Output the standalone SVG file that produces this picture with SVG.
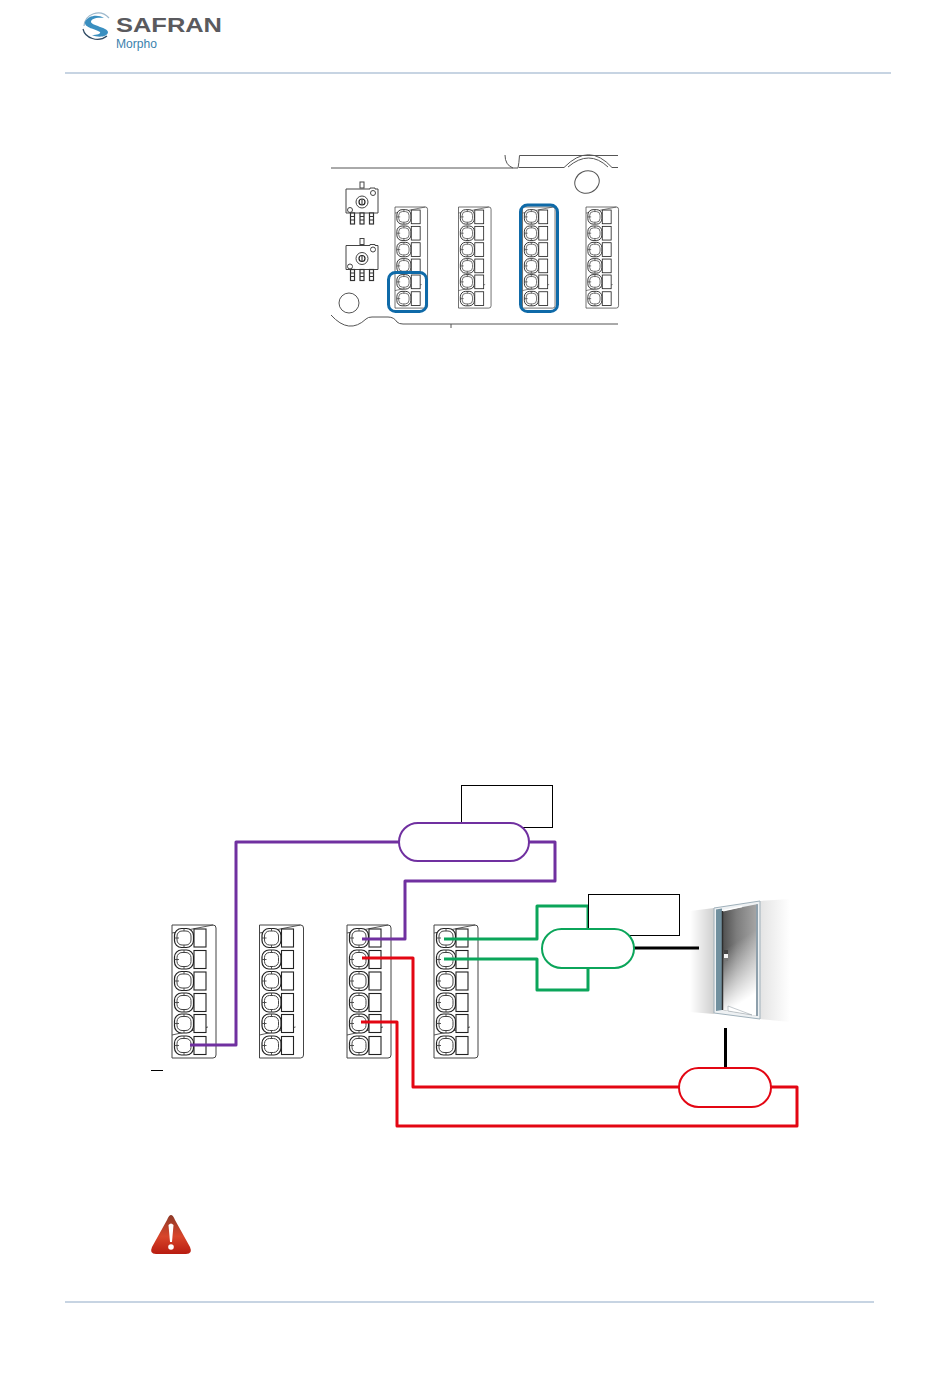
<svg xmlns="http://www.w3.org/2000/svg" xmlns:xlink="http://www.w3.org/1999/xlink" width="950" height="1378" viewBox="0 0 950 1378">
<style>
.hr{stroke:#8fa9c6;stroke-width:1;fill:none}
.pcb{fill:none;stroke:#555;stroke-width:1}
.blk{fill:#fff;stroke:#444;stroke-width:1}
.thin{fill:none;stroke:#444;stroke-width:.9}
.sel{fill:none;stroke:#0f6aa8;stroke-width:3}
.wire{fill:none;stroke-width:3;stroke-linejoin:round}
.purple{stroke:#7030a0}.red{stroke:#e30613}.green{stroke:#0ba55a}.black{stroke:#000;fill:none;stroke-width:3}
.box{fill:#fff;stroke:#000;stroke-width:1}
.pill{fill:#fff;stroke-width:2}
</style>
<defs>
<linearGradient id="wallL" x1="0" x2="1" y1="0" y2="0"><stop offset="0" stop-color="#fff"/><stop offset="1" stop-color="#cfcfcf"/></linearGradient>
<linearGradient id="wallR" x1="0" x2="1" y1="0" y2="0"><stop offset="0" stop-color="#e4e4e4"/><stop offset=".45" stop-color="#f0f0f0"/><stop offset="1" stop-color="#fff"/></linearGradient>
<linearGradient id="doorH" x1="0" x2="1" y1="0" y2="0"><stop offset="0" stop-color="#505050"/><stop offset=".4" stop-color="#7d7d7d"/><stop offset="1" stop-color="#a8a8a8"/></linearGradient>
<linearGradient id="doorV" x1="0" x2=".2" y1="0" y2="1"><stop offset=".4" stop-color="#fff" stop-opacity="0"/><stop offset=".95" stop-color="#fff"/></linearGradient>
<linearGradient id="warn" x1="0" x2="0" y1="0" y2="1"><stop offset="0" stop-color="#8e3a28"/><stop offset=".55" stop-color="#d8452a"/><stop offset="1" stop-color="#b81c10"/></linearGradient>
<g id="row">
<rect x="2.500" y="-9.500" width="19" height="19" rx="7" fill="#fff" stroke="#222" stroke-width="1.200"/>
<rect x="5" y="-7" width="14" height="14" rx="5" fill="none" stroke="#444"/>
<path d="M2.500 0H7M12 -9.500V-7M12 7V9.500" class="thin"/>
<rect x="22" y="-9" width="12" height="18" fill="#fff" stroke="#222" stroke-width="1.100"/>
</g>
<g id="term">
<path class="blk" d="M0 0L41 0Q44 0 44 3V130Q44 133 41 133H0Z"/>
<path class="thin" d="M0 8L41 0M0 110L36 102"/>
<use xlink:href="#row" y="13"/><use xlink:href="#row" y="34.500"/><use xlink:href="#row" y="56"/>
<use xlink:href="#row" y="77.500"/><use xlink:href="#row" y="98.500"/><use xlink:href="#row" y="120.500"/>
</g>
<g id="pin">
<rect x="-2" y="0" width="4" height="11" fill="#fff" stroke="#333" stroke-width="1.200"/>
<path d="M-2 3.500H2M-2 7H2" stroke="#333" stroke-width="1.200"/>
</g>
<g id="switch">
<path class="blk" d="M0 1H24V0H29V1H32V25H0Z"/>
<rect x="14" y="-6" width="4" height="6" class="blk"/>
<circle cx="16" cy="14" r="6" class="blk"/><circle cx="16" cy="14" r="3" fill="#fff" stroke="#222" stroke-width="1.200"/>
<path d="M16 11.500V16.500" stroke="#222"/>
<circle cx="27" cy="5" r="2.500" class="blk"/><circle cx="4" cy="22" r="2.500" class="blk"/>
<use xlink:href="#pin" x="6.500" y="25"/><use xlink:href="#pin" x="16" y="25"/><use xlink:href="#pin" x="25.500" y="25"/>
</g>
</defs>
<rect width="950" height="1378" fill="#fff"/>

<g id="header">
<path d="M84 26C85 14 100 8 109 18" fill="none" stroke="#9db8cc" stroke-width="1.200"/>
<path d="M83 29C85 38 98 43 107 36" fill="none" stroke="#2f4a63" stroke-width="1.200"/>
<path d="M85 22C88 15 98 14 104 18C96 17 91 19 91 22C92 26 107 27 108 32C108 37 98 38 92 35C97 35 101 34 100 32C96 29 84 28 85 22Z" fill="#3a8fc0"/>
<text x="116" y="32" font-family="Liberation Sans, sans-serif" font-weight="700" font-size="21" fill="#5a5a5e" textLength="106" lengthAdjust="spacingAndGlyphs">SAFRAN</text>
<text x="116" y="48" font-family="Liberation Sans, sans-serif" font-size="12" fill="#3b82ad" textLength="41" lengthAdjust="spacingAndGlyphs">Morpho</text>
<path class="hr" d="M65 73H891"/>
</g>

<g id="board">
<path class="pcb" d="M331 168H513M505 155Q505 165 513 168H518Q519 163 519.500 155.500H618M519 167.500H564Q589 142 612 167.500H618M568 167Q589 149 608 167"/>
<ellipse cx="587" cy="182" rx="12.500" ry="11" transform="rotate(-25 587 182)" class="pcb"/>
<circle cx="349" cy="303" r="10" class="pcb"/>
<path class="pcb" d="M331 315Q349 335 366 319Q368 317 372 317H388Q394 317 397 322Q399 324 403 324H618M451 324V328"/>
<use id="switch-1" xlink:href="#switch" x="346" y="188"/>
<use id="switch-2" xlink:href="#switch" x="346" y="244.500"/>
<use id="board-term-1" xlink:href="#term" transform="translate(395 207) scale(.74 .76)"/>
<use id="board-term-2" xlink:href="#term" transform="translate(458.500 207) scale(.74 .76)"/>
<use id="board-term-3" xlink:href="#term" transform="translate(522.500 207) scale(.74 .76)"/>
<use id="board-term-4" xlink:href="#term" transform="translate(586 207) scale(.74 .76)"/>
<rect class="sel" x="388.500" y="272.500" width="38" height="39" rx="7"/>
<rect class="sel" x="520.500" y="205" width="37" height="106.500" rx="7"/>
</g>

<g id="term-1"><use xlink:href="#term" x="172" y="925"/></g>
<g id="term-2"><use xlink:href="#term" x="259.500" y="925"/></g>
<g id="term-3"><use xlink:href="#term" x="347" y="925"/></g>
<g id="term-4"><use xlink:href="#term" x="434" y="925"/></g>
<path id="dash" d="M151 1070.500H163" stroke="#000" stroke-width="1"/>

<g id="door">
<path d="M690 911L714 908V1014L690 1012Z" fill="url(#wallL)"/>
<path d="M760 901L790 899V1022L760 1019Z" fill="url(#wallR)"/>
<path d="M714 908L760 901V1019L714 1013Z" fill="#eef1f3" stroke="#9fb0ba" stroke-width="1"/>
<path d="M716 909.500L722 908.500V1010L716 1011Z" fill="#71909f"/>
<path d="M722.500 911L758 904V1016L722.500 1010Z" fill="url(#doorH)"/>
<path d="M722.500 911L758 904V1016L722.500 1010Z" fill="url(#doorV)"/>
<path d="M757 904.500V1016" stroke="#8ea0ac" stroke-width="2"/>
<path d="M722 911L742 906.500" fill="none" stroke="#fff" stroke-width="1.500"/>
<path d="M722.500 911V1010" stroke="#2e2e2e" stroke-width="1.500"/>
<path d="M728 1006L752 1015L728 1011Z" fill="#fff" stroke="#9aa5ab" stroke-width=".6"/>
<rect x="724" y="950" width="4" height="4" fill="#444"/><rect x="724" y="954" width="4" height="4" fill="#f4f4f4"/><rect x="724" y="958" width="4" height="3" fill="#777"/>
</g>

<g id="connectors">
<path class="wire purple" d="M190 1045H236V842H399M529 842H555V881H405V939H362"/>
<path class="wire red" d="M362 958H413V1087H679M771 1087H797V1126H397V1022H361"/>
<path class="wire green" d="M444 939H537V906H588V929M444 959H537V990H588V968"/>
<path class="black" d="M634 948H699M725.500 1028V1068"/>
</g>

<g id="box-1"><rect class="box" x="461.500" y="785.500" width="91" height="42"/></g>
<g id="box-2"><rect class="box" x="588.500" y="894.500" width="91" height="41"/></g>
<g id="pill-purple"><rect class="pill purple" x="399" y="823" width="130" height="38" rx="19"/></g>
<g id="pill-green"><rect class="pill green" x="542" y="929" width="92" height="39" rx="19.500"/></g>
<g id="pill-red"><rect class="pill red" x="679" y="1068" width="92" height="39" rx="19.500"/></g>

<g id="warning">
<path d="M171 1215Q173 1215 175 1220L190 1247Q193 1254 186 1254H156Q149 1254 152 1247L167 1220Q169 1215 171 1215Z" fill="url(#warn)"/>
<path d="M168.500 1225Q171 1222 173.500 1225L172 1242H170Z" fill="#fff"/>
<circle cx="171" cy="1247" r="2.800" fill="#fff"/>
</g>

<path id="footer" class="hr" d="M65 1302H874"/>
</svg>
